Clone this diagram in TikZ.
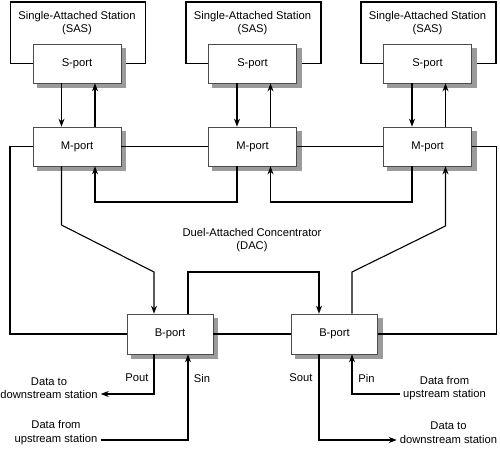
\documentclass[tikz,border=0pt]{standalone}
\usepackage{fontspec}
\setmainfont{Liberation Sans}
\usetikzlibrary{arrows.meta}
\definecolor{shadowgray}{RGB}{155,155,155}
\begin{document}
\begin{tikzpicture}[x=1pt,y=-1pt,
  port/.style={draw=black!70,line width=0.6pt,fill=white,minimum width=88pt,minimum height=39pt,inner sep=0pt},
  portshadow/.style={draw=shadowgray,line width=4.5pt,line cap=butt,line join=miter},
  lbl/.style={inner sep=0pt,align=center,font=\fontsize{11.2}{13.5}\selectfont},
  txt/.style={inner xsep=3pt,inner ysep=0pt,align=center,font=\fontsize{11.2}{13.5}\selectfont},
  wire/.style={line width=1.1pt},
  arr/.style={line width=1.1pt,-{Stealth[length=8pt,width=6pt,inset=2.5pt]}},
  every node/.style={font=\fontsize{11.2}{13.5}\selectfont}]
\useasboundingbox (0,0) rectangle (500,449);

% SAS outlines
\foreach \n/\cx in {1/77,2/252.5,3/427.5}{
  \draw[line width=1.1pt] (\cx-44,63.5) -| (\cx-66.5,2) -| (\cx+68.5,63.5) -- (\cx+44,63.5);
  \node[lbl] (sas\n) at (\cx,23) {Single-Attached Station\\(SAS)};
}

% ports
\node[port] (s1) at (77,63.5) {S-port};
\node[port] (s2) at (252.5,63.5) {S-port};
\node[port] (s3) at (427.5,63.5) {S-port};
\node[port] (m1) at (77,146.5) {M-port};
\node[port] (m2) at (252.5,146.5) {M-port};
\node[port] (m3) at (427.5,146.5) {M-port};
\node[port,minimum width=86pt,minimum height=40pt] (b1) at (170,334) {B-port};
\node[port,minimum width=86pt,minimum height=40pt] (b2) at (334.5,334) {B-port};

% shadows (strips along right and bottom edges)
\foreach \p in {s1,s2,s3,m1,m2,m3,b1,b2}{
  \draw[portshadow] ([shift={(2.6,4)}]\p.north east) -- ([shift={(2.6,2.6)}]\p.south east) -- ([shift={(4,2.6)}]\p.south west);
}

% S <-> M arrows
\foreach \i in {1,2,3}{
  \draw[arr] ([xshift=-15.5pt]s\i.south) -- ([xshift=-15.5pt]m\i.north);
  \draw[arr] ([xshift=18pt]m\i.north) -- ([xshift=18pt]s\i.south);
}

% M-port ring
\draw[wire] (m1.east) -- (m2.west);
\draw[wire] (m2.east) -- (m3.west);
\coordinate (la) at (10,334);
\coordinate (ra) at (496.5,334);
\draw[wire] (m1.west) -| (la) -- (b1.west);
\draw[wire] (m3.east) -| (ra) -- (b2.east);
\draw[wire] (b1.east) -- (b2.west);

% return paths
\coordinate (r1) at (237,202);
\coordinate (r2) at (95,202);
\draw[arr] (m2.south -| r1) -- (r1) -- (r2) -- (r2 |- m1.south);
\coordinate (r3) at (412,202);
\coordinate (r4) at (270.5,202);
\draw[arr] (m3.south -| r3) -- (r3) -- (r4) -- (r4 |- m2.south);

% diagonals
\coordinate (lk1) at (61.5,225);
\coordinate (lk2) at (154,272);
\draw[arr] (m1.south -| lk1) -- (lk1) -- (lk2) -- (lk2 |- b1.north);
\coordinate (rk1) at (445.5,226);
\coordinate (rk2) at (352,272);
\draw[arr] (b2.north -| rk2) -- (rk2) -- (rk1) -- (rk1 |- m3.south);

% B1 -> B2
\coordinate (bk1) at (188,272);
\coordinate (bk2) at (319,272);
\draw[arr] (b1.north -| bk1) -- (bk1) -- (bk2) -- (bk2 |- b2.north);

\node[lbl] (dac) at (252,240) {Duel-Attached Concentrator\\(DAC)};

% external text
\node[txt] (dt1) at (49,388) {Data to\\downstream station};
\node[txt] (uf1) at (56,432.5) {Data from\\upstream station};
\node[txt] (uf2) at (444.5,388) {Data from\\upstream station};
\node[txt] (dt2) at (448.5,432.5) {Data to\\downstream station};

\coordinate (po) at (154,394);
\draw[arr] (b1.south -| po) -- (po) -- (po -| dt1.east);
\coordinate (si) at (188,440);
\draw[arr] (si -| uf1.east) -- (si) -- (si |- b1.south);
\coordinate (so) at (319,440);
\draw[arr] (b2.south -| so) -- (so) -- (so -| dt2.west);
\coordinate (pi) at (352,394);
\draw[arr] (pi -| uf2.west) -- (pi) -- (pi |- b2.south);

\node[lbl] (pout) at (137,378) {Pout};
\node[lbl] (sin) at (202,378) {Sin};
\node[lbl] (sout) at (301,378) {Sout};
\node[lbl] (pin) at (366.5,378) {Pin};
\end{tikzpicture}
\end{document}
